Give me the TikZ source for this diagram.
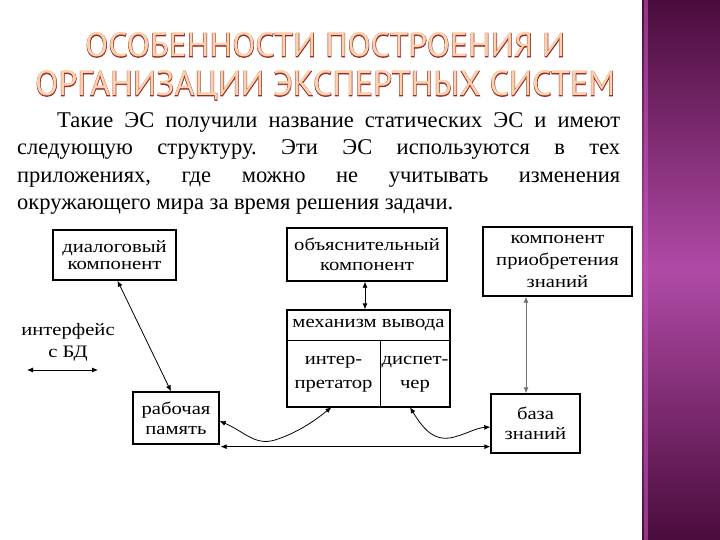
\documentclass[tikz,border=0pt]{standalone}
\usepackage{fontspec}
\usepackage{graphicx}
\setmainfont{Liberation Serif}
\newfontfamily\titleout[FakeBold=2.5]{PT Sans}
\newfontfamily\titlefill{PT Sans}
\newfontfamily\diag[FakeStretch=1.18]{Liberation Serif}
\usetikzlibrary{arrows.meta,calc}
\definecolor{titlered}{HTML}{9A2A26}
\definecolor{titlepeach}{HTML}{FAD3AE}
\definecolor{bandtop}{HTML}{4A0C3C}
\definecolor{bandmid}{HTML}{B04AA6}
\definecolor{bandline}{HTML}{C055B8}
\newcommand\ttlline[3]{\resizebox{#1}{#2}{\rlap{\color{titlered}\titleout #3}{\color{titlepeach}\titlefill #3}}}
\tikzset{
  box/.style={draw, line width=1.3pt, inner sep=0pt, align=center,
    font=\diag\fontsize{17.5}{20}\selectfont},
  cell/.style={inner sep=0pt, align=center,
    font=\diag\fontsize{17.5}{24}\selectfont},
  lbl/.style={inner sep=0pt, align=center,
    font=\diag\fontsize{17.5}{22}\selectfont},
  arr/.style={line width=0.8pt, {Latex[length=6pt,width=5pt]}-{Latex[length=6pt,width=5pt]}},
}
\begin{document}
\frenchspacing
\begin{tikzpicture}[x=1pt,y=-1pt]
\useasboundingbox (0,0) rectangle (720,540);
\fill[white] (0,0) rectangle (720,540);
% right band
\shade[top color=bandtop, bottom color=bandmid] (642,0) rectangle (720,270);
\shade[top color=bandmid, bottom color=bandtop] (642,270) rectangle (720,540);
\fill[bandline, opacity=0.6] (644,0) rectangle (648,540);
% title
\node[anchor=base west, inner sep=0pt] (t1) at (85,57) {\ttlline{480pt}{24pt}{ОСОБЕННОСТИ ПОСТРОЕНИЯ И}};
\node[anchor=base west, inner sep=0pt] (t2) at (35,96) {\ttlline{580pt}{25pt}{ОРГАНИЗАЦИИ ЭКСПЕРТНЫХ СИСТЕМ}};
% body text
\node[anchor=north west, inner sep=0pt, text width=603pt, align=justify,
  font=\fontsize{22.5}{27.5}\selectfont] (body) at (17,112)
  {\hspace*{40pt}Такие ЭС получили название статических ЭС и имеют\linebreak
   следующую структуру. Эти ЭС используются в тех\linebreak
   приложениях, где можно не учитывать изменения\linebreak
   окружающего мира за время решения задачи.};
% boxes
\node[box, minimum width=123pt, minimum height=50pt, font=\diag\fontsize{17.5}{17}\selectfont] (dial) at (114.5,255) {диалоговый\\компонент};
\node[box, minimum width=160pt, minimum height=53pt] (obj) at (367,254.5) {объяснительный\\компонент};
\node[box, minimum width=149pt, minimum height=69pt, font=\diag\fontsize{17.5}{22}\selectfont] (komp) at (557.5,261.5) {компонент\\приобретения\\знаний};
\node[box, minimum width=163pt, minimum height=97pt] (mech) at (368.5,358.5) {};
\node[cell] (mt) at (368.5,325.5) {механизм вывода};
\node[cell, minimum width=93pt, minimum height=66pt] (interp) at (333.5,374) {интер-\\претатор};
\node[cell, minimum width=70pt, minimum height=66pt] (disp) at (415,374) {диспет-\\чер};
\draw[line width=0.8pt] (interp.north west) -- (disp.north east);
\draw[line width=0.8pt] (interp.north east) -- (interp.south east);
\node[box, minimum width=86pt, minimum height=52pt] (rab) at (176,418) {рабочая\\память};
\node[box, minimum width=89pt, minimum height=59pt] (baza) at (535.5,423.5) {база\\знаний};
% interface label
\node[lbl] (iface) at (68,342) {интерфейс\\с БД};
\coordinate (i1) at (27,370);
\coordinate (i2) at (98,370);
\draw[arr] (i1) -- (i2);
% connectors
\draw[arr] ([xshift=3pt]dial.south) -- ([xshift=-5pt]rab.north);
\draw[arr] ([xshift=-2pt]obj.south) -- ([xshift=-2pt]obj.south |- mech.north);
\draw[arr, draw=black!55] ([xshift=-9.5pt]baza.north) -- ([xshift=-9.5pt]baza.north |- komp.south);
\draw[arr] ([yshift=-3pt]rab.east) .. controls (245,432) and (255,446) .. (275,440)
   .. controls (300,432) and (318,418) .. ([xshift=-2pt]interp.south);
\draw[arr] ([xshift=-5pt]disp.south) .. controls (425,432) and (435,440) .. (450,438)
   .. controls (465,435) and (475,428) .. ([yshift=-3.5pt]baza.west);
\draw[arr] ($(rab.south east)+(1,2)$) -- ($(baza.west |- rab.south east)+(0,2)$);
\end{tikzpicture}
\end{document}
